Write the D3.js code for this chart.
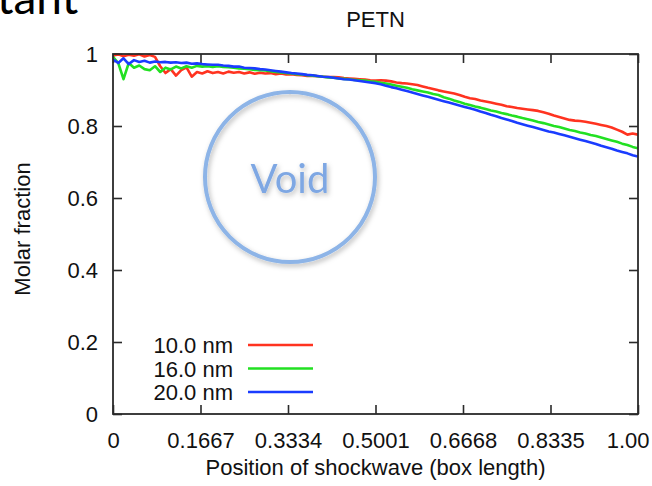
<!DOCTYPE html>
<html>
<head>
<meta charset="utf-8">
<script src="https://cdn.jsdelivr.net/npm/d3@7"></script>
<style>
  html, body { margin: 0; padding: 0; background: #fff; }
  svg { display: block; }
</style>
</head>
<body>
<svg id="chart" width="652" height="486"></svg>
<script>
// Shockwave position sampled every 0.01 box length
const positions = d3.range(0, 101).map(i => +(i / 100).toFixed(2));

// Molar fraction of PETN for each void size
const frac10nm = [
  0.996, 0.999, 0.994, 0.998, 0.995, 0.999, 0.993, 0.997, 0.992, 0.966,
  0.947, 0.958, 0.940, 0.955, 0.963, 0.937, 0.950, 0.946, 0.952, 0.947,
  0.950, 0.946, 0.951, 0.948, 0.950, 0.946, 0.949, 0.945, 0.948, 0.946,
  0.947, 0.944, 0.946, 0.943, 0.944, 0.942, 0.941, 0.939, 0.940, 0.938,
  0.937, 0.936, 0.936, 0.935, 0.933, 0.932, 0.931, 0.930, 0.929, 0.927,
  0.926, 0.927, 0.926, 0.924, 0.921, 0.919, 0.918, 0.916, 0.914, 0.910,
  0.906, 0.903, 0.899, 0.896, 0.893, 0.890, 0.886, 0.881, 0.877, 0.875,
  0.871, 0.868, 0.865, 0.862, 0.859, 0.855, 0.853, 0.850, 0.848, 0.846,
  0.844, 0.842, 0.838, 0.834, 0.829, 0.825, 0.821, 0.817, 0.815, 0.814,
  0.812, 0.809, 0.806, 0.803, 0.800, 0.796, 0.790, 0.784, 0.776, 0.779,
  0.776
];
const frac16nm = [
  0.992, 0.975, 0.930, 0.975, 0.962, 0.968, 0.958, 0.955, 0.966, 0.950,
  0.962, 0.957, 0.965, 0.960, 0.966, 0.962, 0.967, 0.965, 0.966, 0.964,
  0.966, 0.964, 0.963, 0.962, 0.960, 0.959, 0.958, 0.956, 0.955, 0.954,
  0.952, 0.950, 0.949, 0.947, 0.946, 0.944, 0.943, 0.941, 0.940, 0.938,
  0.937, 0.935, 0.934, 0.932, 0.931, 0.930, 0.928, 0.927, 0.926, 0.924,
  0.923, 0.920, 0.918, 0.915, 0.912, 0.909, 0.906, 0.902, 0.899, 0.896,
  0.893, 0.889, 0.886, 0.880, 0.876, 0.871, 0.867, 0.862, 0.858, 0.854,
  0.851, 0.847, 0.843, 0.840, 0.836, 0.833, 0.829, 0.826, 0.822, 0.819,
  0.815, 0.811, 0.808, 0.804, 0.800, 0.797, 0.793, 0.789, 0.786, 0.782,
  0.779, 0.775, 0.772, 0.768, 0.764, 0.760, 0.756, 0.751, 0.747, 0.742,
  0.738
];
const frac20nm = [
  0.985, 0.975, 0.988, 0.972, 0.983, 0.978, 0.981, 0.976, 0.979, 0.977,
  0.978, 0.976, 0.977, 0.975, 0.976, 0.973, 0.974, 0.972, 0.971, 0.970,
  0.970, 0.968, 0.967, 0.965, 0.965, 0.962, 0.961, 0.960, 0.958, 0.957,
  0.955, 0.953, 0.951, 0.949, 0.947, 0.946, 0.944, 0.942, 0.941, 0.939,
  0.937, 0.936, 0.934, 0.932, 0.930, 0.929, 0.927, 0.925, 0.923, 0.921,
  0.919, 0.916, 0.912, 0.908, 0.905, 0.901, 0.897, 0.893, 0.889, 0.885,
  0.881, 0.877, 0.873, 0.869, 0.865, 0.861, 0.857, 0.853, 0.849, 0.845,
  0.840, 0.836, 0.831, 0.827, 0.822, 0.818, 0.814, 0.809, 0.805, 0.801,
  0.797, 0.793, 0.789, 0.785, 0.782, 0.778, 0.774, 0.770, 0.766, 0.762,
  0.758, 0.754, 0.750, 0.745, 0.741, 0.737, 0.732, 0.728, 0.724, 0.719,
  0.715
];

const seriesNames = ["10.0 nm", "16.0 nm", "20.0 nm"];
const seriesColors = ["#ff3320", "#22e022", "#1a3cff"];

const xTickValues = [0, 0.1667, 0.3334, 0.5001, 0.6668, 0.8335, 1.0002];
const xTickLabels = ["0", "0.1667", "0.3334", "0.5001", "0.6668", "0.8335", "1.00"];
const yTickValues = [0, 0.2, 0.4, 0.6, 0.8, 1];
const yTickLabels = ["0", "0.2", "0.4", "0.6", "0.8", "1"];

const svg = d3.select("#chart");
const W = 652, H = 486;
const margin = { left: 113, right: 14, top: 54, bottom: 72 };
const plotW = W - margin.left - margin.right;
const plotH = H - margin.top - margin.bottom;

const x = d3.scaleLinear().domain([0, 1.0002]).range([margin.left, margin.left + plotW]);
const y = d3.scaleLinear().domain([0, 1]).range([margin.top + plotH, margin.top]);

const font = "'Liberation Sans', Arial, Helvetica, sans-serif";
const frameColor = "#2a2a2a";

// Slide heading fragment at the top left
svg.append("text")
  .attr("x", -3).attr("y", 14)
  .attr("font-family", "Lato, 'Open Sans', sans-serif")
  .attr("font-size", 46)
  .attr("fill", "#000")
  .text("tant");

// Title
svg.append("text")
  .attr("x", x(0.5001)).attr("y", 27)
  .attr("text-anchor", "middle")
  .attr("font-family", font).attr("font-size", 22)
  .attr("fill", "#111")
  .text("PETN");

// Axes with inward ticks on all four sides
const tickLen = 9;
const xAxisBottom = d3.axisBottom(x).tickValues(xTickValues)
  .tickFormat((d, i) => xTickLabels[i]).tickSizeInner(-tickLen).tickSizeOuter(0).tickPadding(18);
const xAxisTop = d3.axisTop(x).tickValues(xTickValues)
  .tickFormat(() => "").tickSizeInner(-tickLen).tickSizeOuter(0);
const yAxisLeft = d3.axisLeft(y).tickValues(yTickValues)
  .tickFormat((d, i) => yTickLabels[i]).tickSizeInner(-tickLen).tickSizeOuter(0).tickPadding(15);
const yAxisRight = d3.axisRight(y).tickValues(yTickValues)
  .tickFormat(() => "").tickSizeInner(-tickLen).tickSizeOuter(0);

function styleAxis(g) {
  g.select(".domain").remove();
  g.selectAll(".tick line").attr("stroke", frameColor).attr("stroke-width", 1.6);
  g.selectAll(".tick text").attr("font-family", font).attr("font-size", 22).attr("fill", "#111");
}

const gxBottom = svg.append("g").attr("transform", `translate(0,${margin.top + plotH})`)
  .call(xAxisBottom).call(styleAxis);
// The last label sits against the right edge of the page
gxBottom.selectAll(".tick text").filter((d, i) => i === xTickValues.length - 1)
  .attr("text-anchor", "end").attr("x", 11);
svg.append("g").attr("transform", `translate(0,${margin.top})`).call(xAxisTop).call(styleAxis);
svg.append("g").attr("transform", `translate(${margin.left},0)`).call(yAxisLeft).call(styleAxis);
svg.append("g").attr("transform", `translate(${margin.left + plotW},0)`).call(yAxisRight).call(styleAxis);

// Curves
const allSeries = [frac10nm, frac16nm, frac20nm];
const line = d3.line().x(d => x(d[0])).y(d => y(d[1]));
const defs = svg.append("defs");
defs.append("clipPath").attr("id", "plotClip")
  .append("rect").attr("x", margin.left).attr("y", margin.top - 2)
  .attr("width", plotW).attr("height", plotH + 2);

const curves = svg.append("g").attr("clip-path", "url(#plotClip)");
allSeries.forEach((vals, i) => {
  curves.append("path")
    .datum(positions.map((p, j) => [p, vals[j]]))
    .attr("fill", "none")
    .attr("stroke", seriesColors[i])
    .attr("stroke-width", 2.6)
    .attr("stroke-linejoin", "round")
    .attr("d", line);
});

// Plot frame
svg.append("rect")
  .attr("x", margin.left).attr("y", margin.top)
  .attr("width", plotW).attr("height", plotH)
  .attr("fill", "none").attr("stroke", frameColor).attr("stroke-width", 1.8);

// Axis titles
svg.append("text")
  .attr("x", x(0.5001)).attr("y", 475)
  .attr("text-anchor", "middle")
  .attr("font-family", font).attr("font-size", 22).attr("fill", "#111")
  .text("Position of shockwave (box length)");

svg.append("text")
  .attr("transform", `translate(30,${y(0.5) - 5}) rotate(-90)`)
  .attr("text-anchor", "middle")
  .attr("font-family", font).attr("font-size", 22).attr("fill", "#111")
  .text("Molar fraction");

// Legend
const legend = svg.append("g");
seriesNames.forEach((name, i) => {
  const ly = 345 + i * 23.5;
  legend.append("text")
    .attr("x", 233).attr("y", ly + 8)
    .attr("text-anchor", "end")
    .attr("font-family", font).attr("font-size", 22).attr("fill", "#111")
    .text(name);
  legend.append("line")
    .attr("x1", 248).attr("x2", 313).attr("y1", ly).attr("y2", ly)
    .attr("stroke", seriesColors[i]).attr("stroke-width", 2.6);
});

// Annotation marking the void
const shadow = defs.append("filter").attr("id", "softShadow")
  .attr("x", "-20%").attr("y", "-20%").attr("width", "140%").attr("height", "140%");
shadow.append("feDropShadow")
  .attr("dx", 1.5).attr("dy", 2.5).attr("stdDeviation", 2.5)
  .attr("flood-color", "#000").attr("flood-opacity", 0.28);

const voidMark = svg.append("g").attr("filter", "url(#softShadow)");
voidMark.append("circle")
  .attr("cx", 290).attr("cy", 177).attr("r", 85)
  .attr("fill", "none").attr("stroke", "#8db4e7").attr("stroke-width", 4);
voidMark.append("text")
  .attr("x", 290).attr("y", 193)
  .attr("text-anchor", "middle")
  .attr("font-family", "Lato, 'Open Sans', sans-serif")
  .attr("font-size", 40)
  .attr("fill", "#7ea7e3")
  .text("Void");
</script>
</body>
</html>
